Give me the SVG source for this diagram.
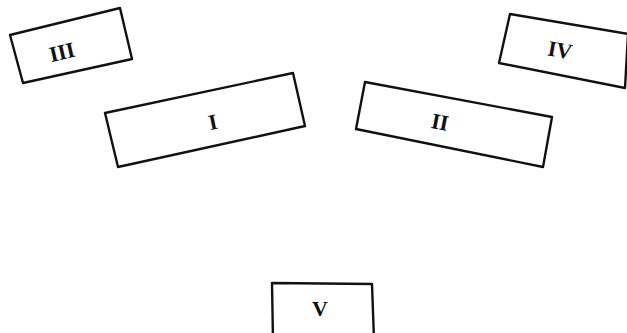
<svg xmlns="http://www.w3.org/2000/svg" width="627" height="333" viewBox="0 0 627 333">
<style>
.box{fill:none;stroke:#111;stroke-width:2.4;stroke-linejoin:round;stroke-linecap:round}
.lbl{font-family:"Liberation Serif",serif;font-size:22px;font-weight:bold;fill:#111;text-anchor:middle;dominant-baseline:central}
</style>
<rect width="627" height="333" fill="#fff"/>
<g id="node-III">
<path class="box" d="M10,35 L120,8 L132,59 L23,83 Z"/>
<text class="lbl" transform="translate(62,52) rotate(-13)">III</text>
</g>
<g id="node-I">
<path class="box" d="M105,113 L293,73 L305,126 L118,167 Z"/>
<text class="lbl" transform="translate(213,122) rotate(-12)">I</text>
</g>
<g id="node-IV">
<path class="box" d="M510,14 L628,34 L625,88 L499,63 Z"/>
<text class="lbl" transform="translate(560,50) rotate(10)">IV</text>
</g>
<g id="node-II">
<path class="box" d="M365,82 L552,117 L543,167 L356,129 Z"/>
<text class="lbl" transform="translate(440,122) rotate(11)">II</text>
</g>
<g id="node-V">
<path class="box" d="M273,340 L272,283 L372,284 L374,340"/>
<text class="lbl" transform="translate(320,308)">V</text>
</g>
<g id="connectors"/>
</svg>
